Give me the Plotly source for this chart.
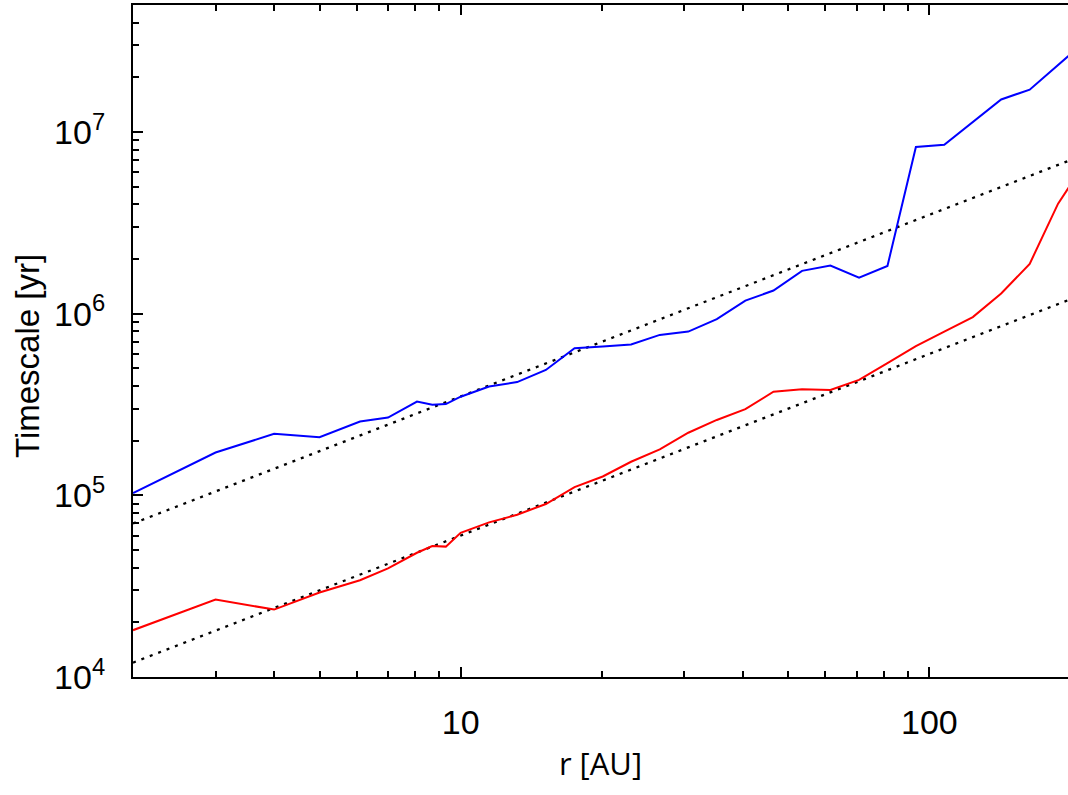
import numpy as np
import plotly.graph_objects as go

# Radial grid [AU]
r_au = [2, 3, 4, 5, 6.1, 7, 8.07, 8.7, 9.3, 10,
        11.5, 13.2, 15.2, 17.5, 20.1, 23.1, 26.6, 30.6, 35.2, 40.5,
        46.5, 53.5, 61.5, 70.8, 81.4, 93.6, 107.6, 123.8, 142.3, 163.7,
        188.2, 216.4]

# Timescales [yr]
t_blue = [1.03e5, 1.72e5, 2.18e5, 2.09e5, 2.55e5, 2.68e5, 3.28e5, 3.15e5, 3.18e5, 3.49e5,
          3.97e5, 4.20e5, 4.90e5, 6.46e5, 6.59e5, 6.76e5, 7.64e5, 7.97e5, 9.33e5, 1.18e6,
          1.34e6, 1.72e6, 1.84e6, 1.58e6, 1.83e6, 8.27e6, 8.51e6, 1.14e7, 1.51e7, 1.71e7,
          2.35e7, 3.20e7]
t_red = [1.81e4, 2.67e4, 2.35e4, 2.92e4, 3.41e4, 3.96e4, 4.83e4, 5.26e4, 5.22e4, 6.22e4,
         7.10e4, 7.82e4, 8.96e4, 1.11e5, 1.27e5, 1.53e5, 1.79e5, 2.21e5, 2.60e5, 2.98e5,
         3.72e5, 3.84e5, 3.80e5, 4.32e5, 5.34e5, 6.62e5, 7.97e5, 9.57e5, 1.29e6, 1.88e6,
         4.03e6, 6.97e6]

# Linear reference scalings t = C * r
r_ref = [2, 200]
c_upper = 3.5e4
c_lower = 6.0e3

# Tick positions and labels
x_major = [10, 100]
x_major_text = ["10", "100"]
x_minor = [3, 4, 5, 6, 7, 8, 9, 20, 30, 40, 50, 60, 70, 80, 90]
y_major = [1e4, 1e5, 1e6, 1e7]
y_major_text = ["10<sup>4</sup>", "10<sup>5</sup>", "10<sup>6</sup>", "10<sup>7</sup>"]
y_minor = [m * 10 ** e for e in range(4, 8) for m in range(2, 10) if m * 10 ** e <= 5e7]

FONT = "Liberation Sans, Arial, sans-serif"
W, H = 1068, 795
M_L, M_R, M_T, M_B = 133, 0, 5, 118

fig = go.Figure()
fig.add_trace(go.Scatter(x=r_ref, y=[c_upper * r for r in r_ref], mode="lines",
                         line=dict(color="black", width=2.3, dash="3px,6px"), showlegend=False))
fig.add_trace(go.Scatter(x=r_ref, y=[c_lower * r for r in r_ref], mode="lines",
                         line=dict(color="black", width=2.3, dash="3px,6px"), showlegend=False))
fig.add_trace(go.Scatter(x=r_au, y=t_blue, mode="lines",
                         line=dict(color="#0000ff", width=2), showlegend=False))
fig.add_trace(go.Scatter(x=r_au, y=t_red, mode="lines",
                         line=dict(color="#ff0000", width=2), showlegend=False))

y_range = [4, np.log10(5e7)]

fig.update_layout(
    width=W, height=H,
    margin=dict(l=M_L, r=M_R, t=M_T, b=M_B),
    plot_bgcolor="white", paper_bgcolor="white",
    font=dict(family=FONT, color="black", size=34),
    xaxis=dict(
        type="log", range=[np.log10(2), np.log10(197.6)],
        showline=True, linecolor="black", linewidth=2, mirror="ticks",
        ticks="inside", ticklen=10, tickwidth=1.5, tickcolor="black",
        tickmode="array", tickvals=x_major, ticktext=x_major_text,
        minor=dict(ticks="inside", ticklen=6, tickwidth=1.5, tickcolor="black",
                   tickmode="array", tickvals=x_minor, showgrid=False),
        showgrid=False, zeroline=False,
        tickfont=dict(family=FONT, size=34),
        ticklabelstandoff=14,
        title=dict(text="r [AU]", font=dict(family="Open Sans, sans-serif", size=31), standoff=14),
    ),
    yaxis=dict(
        type="log", range=y_range,
        showline=True, linecolor="black", linewidth=2, mirror=False,
        ticks="inside", ticklen=10, tickwidth=1.5, tickcolor="black",
        tickmode="array", tickvals=y_major, ticktext=y_major_text,
        minor=dict(ticks="inside", ticklen=6, tickwidth=1.5, tickcolor="black",
                   tickmode="array", tickvals=y_minor, showgrid=False),
        showgrid=False, zeroline=False,
        tickfont=dict(family=FONT, size=34),
        ticklabelstandoff=19,
    ),
    yaxis2=dict(
        type="log", range=y_range, overlaying="y", side="right",
        showline=False, showticklabels=False, showgrid=False, zeroline=False,
        ticks="inside", ticklen=10, tickwidth=1.5, tickcolor="black",
        tickmode="array", tickvals=y_major,
        minor=dict(ticks="inside", ticklen=6, tickwidth=1.5, tickcolor="black",
                   tickmode="array", tickvals=y_minor, showgrid=False),
    ),
    annotations=[
        dict(text="Timescale [yr]", textangle=-90, showarrow=False,
             xref="paper", yref="paper",
             x=(27 - M_L) / (W - M_L - M_R), y=1 - (356 - M_T) / (H - M_T - M_B),
             xanchor="center", yanchor="middle",
             font=dict(family=FONT, size=33, color="black")),
    ],
)

fig.write_html("out.html")
